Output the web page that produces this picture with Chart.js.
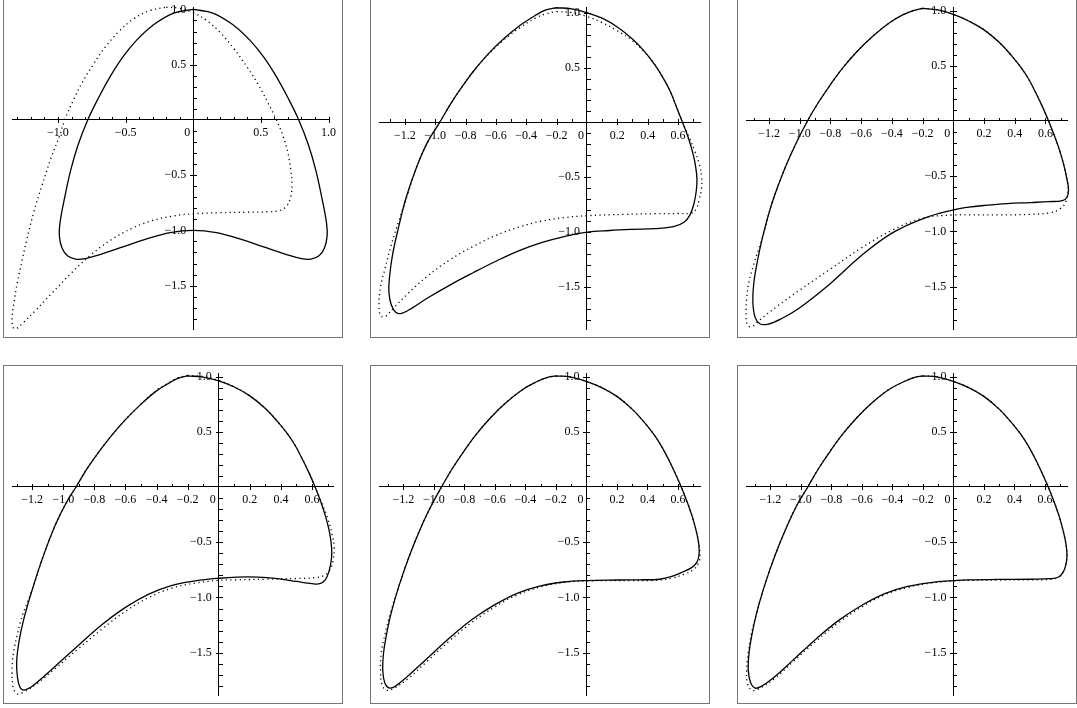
<!DOCTYPE html>
<html>
<head>
<meta charset="utf-8">
<script src="https://cdn.jsdelivr.net/npm/chart.js@4.4.1/dist/chart.umd.min.js"></script>
<style>
  html, body { margin: 0; padding: 0; background: #fff; width: 1077px; height: 708px; overflow: hidden; position: relative; }
  .panel { position: absolute; width: 338px; height: 337px; border: 1px solid #777; }
  .panel canvas { display: block; }
</style>
</head>
<body>
<div class="panel" style="left:3px;top:-1px"><canvas id="c1" width="338" height="337"></canvas></div>
<div class="panel" style="left:370px;top:-1px"><canvas id="c2" width="338" height="337"></canvas></div>
<div class="panel" style="left:737px;top:-1px"><canvas id="c3" width="338" height="337"></canvas></div>
<div class="panel" style="left:3px;top:365px"><canvas id="c4" width="338" height="337"></canvas></div>
<div class="panel" style="left:370px;top:365px"><canvas id="c5" width="338" height="337"></canvas></div>
<div class="panel" style="left:737px;top:365px"><canvas id="c6" width="338" height="337"></canvas></div>
<script>
/* ---- tick labels ---- */
const xMajorWide = [-1.0, -0.5, 0, 0.5, 1.0];
const xMajorFine = [-1.2, -1.0, -0.8, -0.6, -0.4, -0.2, 0, 0.2, 0.4, 0.6];
const yMajor = [-1.5, -1.0, -0.5, 0.5, 1.0];

/* ---- curves, [x, y] ---- */
const p1Solid = [[0,1.0],[0.15,0.965],[0.3,0.855],[0.42,0.72],[0.52,0.57],[0.61,0.4],[0.7,0.2],[0.78,0],[0.85,-0.22],[0.905,-0.45],[0.95,-0.7],[0.985,-0.93],[0.99,-1.05],[0.97,-1.16],[0.93,-1.23],[0.87,-1.26],[0.8,-1.255],[0.68,-1.215],[0.52,-1.15],[0.35,-1.08],[0.17,-1.02],[0,-1.0],[-0.17,-1.02],[-0.35,-1.08],[-0.52,-1.15],[-0.68,-1.215],[-0.8,-1.255],[-0.87,-1.26],[-0.93,-1.23],[-0.97,-1.16],[-0.99,-1.05],[-0.985,-0.93],[-0.95,-0.7],[-0.905,-0.45],[-0.85,-0.22],[-0.78,0],[-0.7,0.2],[-0.61,0.4],[-0.52,0.57],[-0.42,0.72],[-0.3,0.855],[-0.15,0.965],[0,1.0]];
const p1Dot = [[-0.2,1.02],[-0.1,1.01],[0,0.97],[0.1,0.9],[0.2,0.79],[0.3,0.645],[0.4,0.475],[0.48,0.32],[0.55,0.16],[0.615,0],[0.665,-0.15],[0.7,-0.3],[0.72,-0.45],[0.73,-0.58],[0.72,-0.7],[0.69,-0.78],[0.64,-0.82],[0.55,-0.832],[0.4,-0.836],[0.2,-0.84],[0,-0.85],[-0.15,-0.87],[-0.3,-0.91],[-0.45,-0.98],[-0.6,-1.08],[-0.75,-1.215],[-0.9,-1.385],[-1.05,-1.575],[-1.17,-1.73],[-1.26,-1.84],[-1.31,-1.89],[-1.335,-1.875],[-1.34,-1.8],[-1.325,-1.65],[-1.3,-1.47],[-1.265,-1.27],[-1.23,-1.08],[-1.18,-0.84],[-1.12,-0.6],[-1.05,-0.34],[-0.99,-0.15],[-0.95,0],[-0.89,0.17],[-0.82,0.34],[-0.74,0.5],[-0.65,0.66],[-0.55,0.8],[-0.44,0.915],[-0.32,0.99],[-0.2,1.02]];

const p2Solid = [[-0.2,1.045],[-0.1,1.035],[0,1.0],[0.1,0.95],[0.2,0.87],[0.3,0.76],[0.38,0.645],[0.45,0.52],[0.5,0.41],[0.55,0.28],[0.59,0.14],[0.63,0],[0.668,-0.14],[0.698,-0.28],[0.716,-0.4],[0.725,-0.52],[0.72,-0.63],[0.705,-0.74],[0.68,-0.84],[0.64,-0.91],[0.57,-0.95],[0.45,-0.968],[0.3,-0.975],[0.15,-0.985],[0,-1.0],[-0.15,-1.04],[-0.3,-1.095],[-0.45,-1.17],[-0.6,-1.265],[-0.75,-1.37],[-0.9,-1.48],[-1.05,-1.6],[-1.15,-1.69],[-1.22,-1.74],[-1.26,-1.73],[-1.29,-1.66],[-1.305,-1.54],[-1.3,-1.4],[-1.28,-1.2],[-1.24,-0.95],[-1.19,-0.68],[-1.12,-0.4],[-1.05,-0.18],[-0.97,0],[-0.9,0.165],[-0.82,0.33],[-0.74,0.48],[-0.65,0.625],[-0.55,0.76],[-0.44,0.885],[-0.34,0.975],[-0.27,1.025],[-0.2,1.045]];
const p2Dot = [[-0.2,1.01],[-0.1,1.0],[0,0.965],[0.1,0.91],[0.2,0.835],[0.3,0.745],[0.38,0.64],[0.45,0.52],[0.5,0.41],[0.55,0.28],[0.59,0.14],[0.63,0],[0.672,-0.13],[0.71,-0.26],[0.74,-0.38],[0.756,-0.5],[0.755,-0.6],[0.74,-0.7],[0.72,-0.79],[0.69,-0.825],[0.6,-0.83],[0.45,-0.832],[0.25,-0.838],[0,-0.85],[-0.15,-0.868],[-0.3,-0.9],[-0.45,-0.955],[-0.6,-1.03],[-0.75,-1.13],[-0.9,-1.25],[-1.05,-1.4],[-1.18,-1.56],[-1.28,-1.7],[-1.33,-1.77],[-1.36,-1.76],[-1.37,-1.66],[-1.36,-1.5],[-1.33,-1.33],[-1.29,-1.12],[-1.24,-0.9],[-1.18,-0.65],[-1.12,-0.4],[-1.05,-0.18],[-0.97,0],[-0.9,0.165],[-0.82,0.33],[-0.74,0.48],[-0.65,0.62],[-0.55,0.75],[-0.44,0.865],[-0.34,0.95],[-0.27,0.99],[-0.2,1.01]];

const p3Solid = [[-0.2,1.02],[-0.1,1.005],[0,0.965],[0.1,0.905],[0.2,0.825],[0.3,0.71],[0.38,0.59],[0.44,0.485],[0.49,0.38],[0.535,0.26],[0.58,0.13],[0.62,0],[0.66,-0.14],[0.695,-0.28],[0.723,-0.42],[0.74,-0.53],[0.75,-0.62],[0.74,-0.69],[0.71,-0.72],[0.62,-0.73],[0.5,-0.738],[0.35,-0.748],[0.2,-0.765],[0.1,-0.78],[0,-0.805],[-0.2,-0.885],[-0.4,-1.015],[-0.6,-1.22],[-0.8,-1.47],[-1.0,-1.69],[-1.12,-1.79],[-1.21,-1.84],[-1.26,-1.835],[-1.29,-1.78],[-1.305,-1.65],[-1.3,-1.48],[-1.28,-1.3],[-1.24,-1.04],[-1.18,-0.74],[-1.1,-0.44],[-1.03,-0.22],[-0.95,0],[-0.88,0.165],[-0.8,0.33],[-0.72,0.48],[-0.63,0.625],[-0.53,0.76],[-0.42,0.885],[-0.33,0.96],[-0.26,1.0],[-0.2,1.02]];
const p3Dot = [[-0.2,1.02],[-0.1,1.005],[0,0.965],[0.1,0.905],[0.2,0.825],[0.3,0.71],[0.38,0.59],[0.44,0.485],[0.49,0.38],[0.535,0.26],[0.58,0.13],[0.62,0],[0.66,-0.14],[0.695,-0.28],[0.723,-0.42],[0.74,-0.53],[0.748,-0.62],[0.735,-0.72],[0.7,-0.79],[0.63,-0.83],[0.5,-0.845],[0.3,-0.85],[0.1,-0.85],[0,-0.85],[-0.2,-0.88],[-0.4,-0.99],[-0.6,-1.15],[-0.8,-1.34],[-1.0,-1.53],[-1.15,-1.68],[-1.26,-1.8],[-1.31,-1.86],[-1.34,-1.85],[-1.35,-1.75],[-1.345,-1.6],[-1.33,-1.45],[-1.3,-1.3],[-1.24,-1.04],[-1.18,-0.74],[-1.1,-0.44],[-1.03,-0.22],[-0.95,0],[-0.88,0.165],[-0.8,0.33],[-0.72,0.48],[-0.63,0.625],[-0.53,0.76],[-0.42,0.885],[-0.33,0.96],[-0.26,1.0],[-0.2,1.02]];

const p4Solid = [[-0.2,1.005],[-0.1,0.995],[0,0.96],[0.1,0.905],[0.2,0.825],[0.3,0.71],[0.38,0.59],[0.44,0.485],[0.49,0.38],[0.535,0.26],[0.58,0.13],[0.62,0],[0.658,-0.14],[0.69,-0.28],[0.714,-0.42],[0.726,-0.55],[0.725,-0.65],[0.71,-0.76],[0.685,-0.84],[0.65,-0.875],[0.6,-0.875],[0.5,-0.855],[0.38,-0.83],[0.25,-0.815],[0.12,-0.815],[0,-0.826],[-0.15,-0.85],[-0.3,-0.89],[-0.45,-0.97],[-0.6,-1.09],[-0.75,-1.245],[-0.9,-1.43],[-1.05,-1.62],[-1.17,-1.77],[-1.24,-1.835],[-1.275,-1.82],[-1.295,-1.72],[-1.3,-1.58],[-1.285,-1.4],[-1.255,-1.2],[-1.2,-0.93],[-1.13,-0.63],[-1.05,-0.34],[-0.98,-0.14],[-0.918,0],[-0.85,0.16],[-0.77,0.32],[-0.69,0.465],[-0.6,0.61],[-0.5,0.75],[-0.4,0.87],[-0.32,0.94],[-0.26,0.985],[-0.2,1.005]];
const p4Dot = [[-0.2,1.01],[-0.1,1.0],[0,0.965],[0.1,0.905],[0.2,0.825],[0.3,0.71],[0.38,0.59],[0.44,0.485],[0.49,0.38],[0.535,0.26],[0.58,0.13],[0.62,0],[0.662,-0.14],[0.7,-0.28],[0.728,-0.42],[0.742,-0.55],[0.735,-0.67],[0.715,-0.75],[0.68,-0.8],[0.62,-0.82],[0.5,-0.828],[0.3,-0.835],[0.1,-0.84],[0,-0.845],[-0.15,-0.87],[-0.3,-0.915],[-0.45,-1.0],[-0.6,-1.125],[-0.75,-1.285],[-0.9,-1.46],[-1.05,-1.64],[-1.17,-1.78],[-1.26,-1.86],[-1.3,-1.87],[-1.325,-1.8],[-1.33,-1.66],[-1.32,-1.5],[-1.295,-1.33],[-1.26,-1.15],[-1.2,-0.93],[-1.13,-0.63],[-1.05,-0.34],[-0.98,-0.14],[-0.918,0],[-0.85,0.16],[-0.77,0.32],[-0.69,0.465],[-0.6,0.61],[-0.5,0.75],[-0.4,0.875],[-0.32,0.945],[-0.26,0.99],[-0.2,1.01]];

const p5Solid = [[-0.2,1.005],[-0.1,0.995],[0,0.955],[0.1,0.9],[0.2,0.82],[0.3,0.705],[0.38,0.585],[0.44,0.48],[0.49,0.375],[0.535,0.26],[0.58,0.13],[0.622,0],[0.662,-0.14],[0.697,-0.28],[0.724,-0.42],[0.738,-0.53],[0.738,-0.62],[0.725,-0.68],[0.69,-0.73],[0.63,-0.77],[0.56,-0.81],[0.48,-0.835],[0.35,-0.84],[0.2,-0.842],[0,-0.847],[-0.15,-0.86],[-0.3,-0.895],[-0.45,-0.96],[-0.6,-1.065],[-0.75,-1.2],[-0.9,-1.37],[-1.05,-1.56],[-1.17,-1.71],[-1.25,-1.8],[-1.29,-1.82],[-1.32,-1.78],[-1.335,-1.67],[-1.33,-1.5],[-1.31,-1.33],[-1.28,-1.14],[-1.23,-0.9],[-1.16,-0.62],[-1.08,-0.35],[-1.01,-0.15],[-0.95,0],[-0.88,0.165],[-0.8,0.33],[-0.72,0.48],[-0.63,0.625],[-0.53,0.76],[-0.42,0.88],[-0.33,0.95],[-0.26,0.99],[-0.2,1.005]];
const p5Dot = [[-0.2,1.005],[-0.1,0.995],[0,0.955],[0.1,0.9],[0.2,0.82],[0.3,0.705],[0.38,0.585],[0.44,0.48],[0.49,0.375],[0.535,0.26],[0.58,0.13],[0.622,0],[0.662,-0.14],[0.697,-0.28],[0.724,-0.42],[0.74,-0.53],[0.745,-0.62],[0.735,-0.69],[0.7,-0.75],[0.64,-0.79],[0.56,-0.825],[0.45,-0.845],[0.3,-0.848],[0,-0.85],[-0.15,-0.865],[-0.3,-0.905],[-0.45,-0.975],[-0.6,-1.085],[-0.75,-1.225],[-0.9,-1.395],[-1.05,-1.585],[-1.17,-1.735],[-1.26,-1.82],[-1.31,-1.84],[-1.34,-1.79],[-1.35,-1.67],[-1.345,-1.5],[-1.32,-1.33],[-1.285,-1.14],[-1.23,-0.9],[-1.16,-0.62],[-1.08,-0.35],[-1.01,-0.15],[-0.95,0],[-0.88,0.165],[-0.8,0.33],[-0.72,0.48],[-0.63,0.625],[-0.53,0.76],[-0.42,0.88],[-0.33,0.95],[-0.26,0.99],[-0.2,1.005]];

const p6Solid = [[-0.2,1.005],[-0.1,0.995],[0,0.955],[0.1,0.9],[0.2,0.82],[0.3,0.705],[0.38,0.585],[0.44,0.48],[0.49,0.375],[0.535,0.26],[0.58,0.13],[0.622,0],[0.662,-0.14],[0.697,-0.28],[0.724,-0.42],[0.74,-0.53],[0.745,-0.62],[0.738,-0.7],[0.72,-0.77],[0.69,-0.815],[0.64,-0.83],[0.5,-0.835],[0.3,-0.837],[0.1,-0.84],[0,-0.847],[-0.15,-0.865],[-0.3,-0.9],[-0.45,-0.965],[-0.6,-1.07],[-0.75,-1.205],[-0.9,-1.375],[-1.05,-1.565],[-1.17,-1.715],[-1.26,-1.805],[-1.3,-1.82],[-1.33,-1.77],[-1.345,-1.66],[-1.34,-1.5],[-1.32,-1.33],[-1.29,-1.14],[-1.24,-0.9],[-1.17,-0.62],[-1.09,-0.35],[-1.02,-0.15],[-0.955,0],[-0.885,0.165],[-0.805,0.33],[-0.725,0.48],[-0.635,0.625],[-0.535,0.76],[-0.425,0.88],[-0.33,0.95],[-0.26,0.99],[-0.2,1.005]];
const p6Dot = [[-0.2,1.005],[-0.1,0.995],[0,0.955],[0.1,0.9],[0.2,0.82],[0.3,0.705],[0.38,0.585],[0.44,0.48],[0.49,0.375],[0.535,0.26],[0.58,0.13],[0.622,0],[0.662,-0.14],[0.697,-0.28],[0.724,-0.42],[0.74,-0.53],[0.745,-0.62],[0.738,-0.7],[0.72,-0.77],[0.69,-0.815],[0.64,-0.835],[0.5,-0.84],[0.3,-0.842],[0.1,-0.845],[0,-0.85],[-0.15,-0.87],[-0.3,-0.91],[-0.45,-0.975],[-0.6,-1.085],[-0.75,-1.225],[-0.9,-1.395],[-1.05,-1.58],[-1.17,-1.73],[-1.28,-1.83],[-1.32,-1.84],[-1.35,-1.78],[-1.355,-1.65],[-1.345,-1.5],[-1.325,-1.33],[-1.29,-1.14],[-1.24,-0.9],[-1.17,-0.62],[-1.09,-0.35],[-1.02,-0.15],[-0.955,0],[-0.885,0.165],[-0.805,0.33],[-0.725,0.48],[-0.635,0.625],[-0.535,0.76],[-0.425,0.88],[-0.33,0.95],[-0.26,0.99],[-0.2,1.005]];

/* ---- axis ranges per panel ---- */
const panels = [
  { id: 'c1', xRange: [-1.34, 1.0],   yRange: [-1.9, 1.02],  xMajor: xMajorWide, solid: p1Solid, dotted: p1Dot },
  { id: 'c2', xRange: [-1.37, 0.745], yRange: [-1.89, 1.05], xMajor: xMajorFine, solid: p2Solid, dotted: p2Dot },
  { id: 'c3', xRange: [-1.35, 0.74],  yRange: [-1.89, 1.03], xMajor: xMajorFine, solid: p3Solid, dotted: p3Dot },
  { id: 'c4', xRange: [-1.33, 0.735], yRange: [-1.89, 1.03], xMajor: xMajorFine, solid: p4Solid, dotted: p4Dot },
  { id: 'c5', xRange: [-1.36, 0.745], yRange: [-1.89, 1.03], xMajor: xMajorFine, solid: p5Solid, dotted: p5Dot },
  { id: 'c6', xRange: [-1.36, 0.745], yRange: [-1.89, 1.03], xMajor: xMajorFine, solid: p6Solid, dotted: p6Dot }
];

const FONT = { family: "'Liberation Serif', 'Times New Roman', serif", size: 12 };

const isMajor = (v, list) => list.some(m => Math.abs(m - v) < 1e-6);
const fmt = v => (v < 0 ? '\u2212' : '') + Math.abs(v).toFixed(1);
const toPts = arr => arr.map(([x, y]) => ({ x, y }));

// maple-style tick marks: minor ticks on one side, major ticks across the axis
const axisTicks = {
  id: 'axisTicks',
  afterDraw(chart) {
    const { ctx, scales: { x, y } } = chart;
    const ox = Math.round(x.getPixelForValue(0));
    const oy = Math.round(y.getPixelForValue(0));
    ctx.save();
    ctx.strokeStyle = '#000';
    ctx.lineWidth = 1;
    ctx.beginPath();
    x.ticks.forEach(t => {
      if (Math.abs(t.value) < 1e-9) return;
      const px = Math.round(x.getPixelForValue(t.value)) + 0.5;
      ctx.moveTo(px, oy - 3);
      ctx.lineTo(px, oy + (t.label ? 3 : 0));
    });
    y.ticks.forEach(t => {
      if (Math.abs(t.value) < 1e-9) return;
      const py = Math.round(y.getPixelForValue(t.value)) + 0.5;
      ctx.moveTo(ox - (t.label ? 3 : 0), py);
      ctx.lineTo(ox + 4, py);
    });
    ctx.stroke();
    ctx.restore();
  }
};

function buildChart(p) {
  const keepTenths = s => {
    s.ticks = s.ticks.filter(t => Math.abs(t.value * 10 - Math.round(t.value * 10)) < 1e-6 &&
      t.value >= s.min - 1e-9 && t.value <= s.max + 1e-9);
  };
  return new Chart(document.getElementById(p.id), {
    type: 'scatter',
    data: {
      datasets: [
        { data: toPts(p.dotted), showLine: true, borderColor: '#000', borderWidth: 1.3,
          borderDash: [1.2, 3.4], pointRadius: 0, tension: 0.4, fill: false, clip: false },
        { data: toPts(p.solid), showLine: true, borderColor: '#000', borderWidth: 1.3,
          pointRadius: 0, tension: 0.4, fill: false, clip: false }
      ]
    },
    options: {
      responsive: false,
      animation: false,
      events: [],
      layout: { padding: { left: 8, right: 9, top: 6.5, bottom: 6 } },
      plugins: { legend: { display: false }, tooltip: { enabled: false } },
      scales: {
        x: {
          type: 'linear', min: p.xRange[0], max: p.xRange[1],
          position: { y: 0 },
          afterFit: s => { s.height = 0; },
          afterBuildTicks: keepTenths,
          grid: { display: true, drawOnChartArea: false, drawTicks: false },
          border: { display: true, color: '#000', width: 1 },
          ticks: {
            stepSize: 0.1, includeBounds: false, autoSkip: false, maxRotation: 0, minRotation: 0,
            padding: 6, color: '#000', font: FONT,
            callback: v => !isMajor(v, p.xMajor) ? '' : (Math.abs(v) < 1e-9 ? '0\u2002\u2002' : fmt(v))
          }
        },
        y: {
          type: 'linear', min: p.yRange[0], max: p.yRange[1],
          position: { x: 0 },
          afterFit: s => { s.width = 0; },
          afterBuildTicks: keepTenths,
          grid: { display: true, drawOnChartArea: false, drawTicks: false },
          border: { display: true, color: '#000', width: 1 },
          ticks: {
            stepSize: 0.1, includeBounds: false, autoSkip: false, padding: 0, color: '#000', font: FONT,
            callback: v => (Math.abs(v) < 1e-9 || !isMajor(v, yMajor)) ? '' : fmt(v) + '\u2002\u200a'
          }
        }
      }
    },
    plugins: [axisTicks]
  });
}

window.addEventListener('load', () => {
  panels.forEach(buildChart);
});
</script>
</body>
</html>
